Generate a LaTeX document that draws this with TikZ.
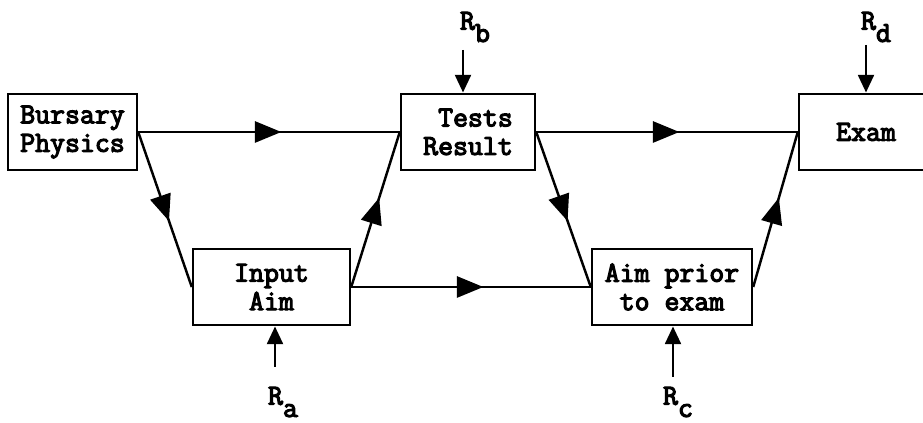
\documentclass[tikz,border=0pt]{standalone}
\usepackage{fontspec}
\newfontfamily\typer{Latin Modern Mono}[FakeBold=4]
\usepackage{tikz}
\usetikzlibrary{
	arrows.meta,
	decorations.markings,
	positioning
}
\newcommand{\rsub}[1]{R\raisebox{-7pt}{#1}}
\tikzset{
	block/.style={draw, line width=1.4pt, minimum width=#1, minimum height=1.53cm,
		align=center, inner sep=0pt,
		font=\fontsize{16.5}{16.2}\selectfont\typer},
	flow/.style={line width=1.4pt, postaction={decorate},
		decoration={markings, mark=at position 0.5 with {\arrow[xshift=7pt]{Triangle[length=15pt,width=12pt]}}}},
	feed/.style={line width=1.4pt, -{Triangle[length=10pt,width=9pt]}},
	rlabel/.style={inner sep=0pt, font=\fontsize{16.5}{16.2}\selectfont\typer}
}

\begin{document}
\begin{tikzpicture}
	\useasboundingbox (0,0) rectangle (18.46,8.46);
	\clip (0,0) rectangle (18.46,8.46);
	% boxes
	\node[block=2.58cm] (bursary) at (1.45,5.82) {Bursary\\Physics};
	\node[block=2.68cm] (tests) at (9.36,5.82) {\ Tests\\Result};
	\node[block=2.68cm] (exam) at (17.32,5.82) {Exam};
	\node[block=3.14cm] (input) at (5.43,2.72) {Input\\Aim};
	\node[block=3.2cm] (aimprior) at (13.44,2.72) {Aim prior\\to exam};
	% flows between boxes
	\draw[flow] (bursary.east) -- (tests.west);
	\draw[flow] (tests.east) -- (exam.west);
	\draw[flow] (bursary.east) -- (input.west);
	\draw[flow] (input.east) -- (tests.west);
	\draw[flow] (input.east) -- (aimprior.west);
	\draw[flow] (tests.east) -- (aimprior.west);
	\draw[flow] (aimprior.east) -- (exam.west);
	% outside inputs
	\node[rlabel] (ra) at (5.66,0.42) {\rsub{a}};
	\node[rlabel] (rb) at (9.5,7.92) {\rsub{b}};
	\node[rlabel] (rc) at (13.56,0.42) {\rsub{c}};
	\node[rlabel] (rd) at (17.52,7.92) {\rsub{d}};
	\coordinate (ra-in) at (5.5,1.12);
	\coordinate (rb-in) at (9.26,7.46);
	\coordinate (rc-in) at (13.46,0.92);
	\coordinate (rd-in) at (17.32,7.56);
	\draw[feed] (ra-in) -- (ra-in |- input.south);
	\draw[feed] (rb-in) -- (rb-in |- tests.north);
	\draw[feed] (rc-in) -- (rc-in |- aimprior.south);
	\draw[feed] (rd-in) -- (rd-in |- exam.north);
\end{tikzpicture}
\end{document}
